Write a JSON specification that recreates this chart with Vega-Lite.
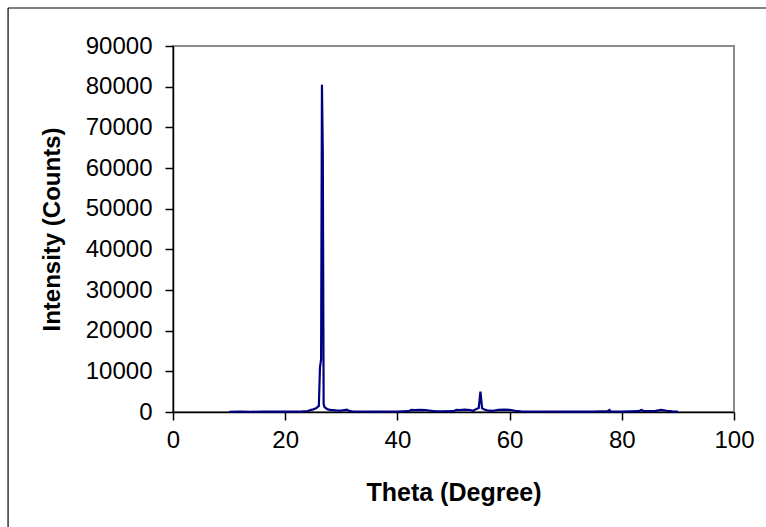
{
  "$schema": "https://vega.github.io/schema/vega-lite/v6.json",
  "width": 561,
  "height": 366,
  "autosize": {"type": "none"},
  "padding": {"left": 173, "top": 46, "right": 32, "bottom": 115},
  "background": "white",
  "config": {
    "view": {"stroke": "#8c8c8c", "strokeWidth": 2},
    "font": "Liberation Sans"
  },
  "datasets": {
    "xrd": [
      {"theta": 10, "intensity": 60}, {"theta": 12, "intensity": 70}, {"theta": 14, "intensity": 60},
      {"theta": 16, "intensity": 80}, {"theta": 18, "intensity": 70}, {"theta": 20, "intensity": 90},
      {"theta": 22, "intensity": 100}, {"theta": 23, "intensity": 150}, {"theta": 24, "intensity": 250},
      {"theta": 24.5, "intensity": 450}, {"theta": 25, "intensity": 650}, {"theta": 25.5, "intensity": 900},
      {"theta": 26, "intensity": 1500}, {"theta": 26.2, "intensity": 11000}, {"theta": 26.4, "intensity": 13000},
      {"theta": 26.55, "intensity": 80500}, {"theta": 26.7, "intensity": 64000}, {"theta": 26.85, "intensity": 2000},
      {"theta": 27, "intensity": 1200}, {"theta": 27.5, "intensity": 700}, {"theta": 28, "intensity": 500},
      {"theta": 29, "intensity": 400}, {"theta": 30, "intensity": 350}, {"theta": 31, "intensity": 550},
      {"theta": 31.5, "intensity": 200}, {"theta": 32, "intensity": 150}, {"theta": 34, "intensity": 120},
      {"theta": 36, "intensity": 100}, {"theta": 38, "intensity": 100}, {"theta": 40, "intensity": 120},
      {"theta": 42, "intensity": 200}, {"theta": 42.5, "intensity": 500}, {"theta": 43, "intensity": 450},
      {"theta": 44, "intensity": 500}, {"theta": 45, "intensity": 450}, {"theta": 46, "intensity": 300},
      {"theta": 47, "intensity": 150}, {"theta": 48, "intensity": 150}, {"theta": 50, "intensity": 200},
      {"theta": 50.5, "intensity": 500}, {"theta": 51, "intensity": 450}, {"theta": 52, "intensity": 600},
      {"theta": 53, "intensity": 500}, {"theta": 53.5, "intensity": 300}, {"theta": 54, "intensity": 700},
      {"theta": 54.5, "intensity": 1000}, {"theta": 54.8, "intensity": 5000}, {"theta": 55.1, "intensity": 900},
      {"theta": 55.5, "intensity": 600}, {"theta": 56, "intensity": 400}, {"theta": 57, "intensity": 300},
      {"theta": 58, "intensity": 500}, {"theta": 59, "intensity": 600}, {"theta": 60, "intensity": 500},
      {"theta": 61, "intensity": 300}, {"theta": 62, "intensity": 150}, {"theta": 65, "intensity": 120},
      {"theta": 70, "intensity": 100}, {"theta": 75, "intensity": 100}, {"theta": 77.5, "intensity": 200},
      {"theta": 77.8, "intensity": 500}, {"theta": 78, "intensity": 150}, {"theta": 80, "intensity": 100},
      {"theta": 83, "intensity": 200}, {"theta": 83.5, "intensity": 500}, {"theta": 84, "intensity": 200},
      {"theta": 86, "intensity": 300}, {"theta": 87, "intensity": 500}, {"theta": 88, "intensity": 300},
      {"theta": 89, "intensity": 150}, {"theta": 90, "intensity": 100}
    ]
  },
  "layer": [
    {
      "data": {"name": "xrd"},
      "mark": {"type": "line", "color": "#000080", "strokeWidth": 2.2},
      "encoding": {
        "x": {
          "field": "theta", "type": "quantitative",
          "scale": {"domain": [0, 100], "nice": false, "zero": false},
          "axis": {
            "title": "Theta (Degree)", "values": [0, 20, 40, 60, 80, 100],
            "grid": false, "domainColor": "black", "domainWidth": 1.5,
            "tickColor": "black", "tickSize": 8, "tickWidth": 1.5,
            "labelFont": "Liberation Sans", "labelFontSize": 24, "labelColor": "black", "labelPadding": 8,
            "labelFlush": false, "labelOverlap": false,
            "titleFont": "Liberation Sans", "titleFontSize": 25, "titleFontWeight": "bold", "titleColor": "black",
            "titlePadding": 28
          }
        },
        "y": {
          "field": "intensity", "type": "quantitative",
          "scale": {"domain": [0, 90000], "nice": false},
          "axis": {
            "title": "Intensity (Counts)", "values": [0, 10000, 20000, 30000, 40000, 50000, 60000, 70000, 80000, 90000],
            "format": "d", "grid": false, "domainColor": "black", "domainWidth": 1.5,
            "tickColor": "black", "tickSize": 8, "tickWidth": 1.5,
            "labelFont": "Liberation Sans", "labelFontSize": 24, "labelColor": "black", "labelPadding": 13,
            "labelFlush": false, "labelOverlap": false,
            "titleFont": "Liberation Sans", "titleFontSize": 24, "titleFontWeight": "bold", "titleColor": "black",
            "titlePadding": 21
          }
        }
      }
    },
    {
      "data": {"values": [{"b": -29.4}]},
      "mark": {"type": "rule", "color": "black", "strokeWidth": 1.2, "clip": false},
      "encoding": {
        "x": {"field": "b", "type": "quantitative"},
        "y": {"datum": -30000},
        "y2": {"datum": 99340}
      }
    },
    {
      "data": {"values": [{"t": 99340}]},
      "mark": {"type": "rule", "color": "black", "strokeWidth": 1.2, "clip": false},
      "encoding": {
        "y": {"field": "t", "type": "quantitative"},
        "x": {"datum": -29.4},
        "x2": {"datum": 120}
      }
    }
  ]
}
